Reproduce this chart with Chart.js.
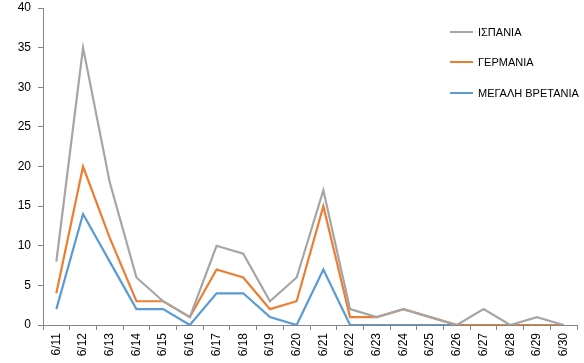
<!DOCTYPE html>
<html>
<head>
<meta charset="utf-8">
<script src="https://cdn.jsdelivr.net/npm/chart.js@4"></script>
<style>
html,body{margin:0;padding:0;background:#fff;}
#wrap{width:584px;height:363px;position:relative;}
</style>
</head>
<body>
<div id="wrap"><canvas id="c" width="584" height="363"></canvas></div>
<script>
const categories = ['6/11','6/12','6/13','6/14','6/15','6/16','6/17','6/18','6/19','6/20','6/21','6/22','6/23','6/24','6/25','6/26','6/27','6/28','6/29','6/30'];
const spain   = [8,35,18,6,3,1,10,9,3,6,17,2,1,2,1,0,2,0,1,0];
const germany = [4,20,11,3,3,1,7,6,2,3,15,1,1,2,1,0,0,0,0,0];
const uk      = [2,14,8,2,2,0,4,4,1,0,7,0,0,0,0,0,null,null,null,null];
const seriesNames = ['ΙΣΠΑΝΙΑ','ΓΕΡΜΑΝΙΑ','ΜΕΓΑΛΗ ΒΡΕΤΑΝΙΑ'];
const yTicks = [0,5,10,15,20,25,30,35,40];

const axisColor = '#868686';
const font = {family:'"Liberation Sans", Arial, sans-serif', size:12};

const legendPlugin = {
  id:'customLegend',
  afterDraw(chart){
    const ctx = chart.ctx;
    const ys = [32,62,93];
    ctx.save();
    chart.data.datasets.forEach((ds,i)=>{
      const y = ys[i];
      ctx.strokeStyle = ds.borderColor;
      ctx.lineWidth = 2;
      ctx.beginPath();
      ctx.moveTo(450,y);
      ctx.lineTo(473,y);
      ctx.stroke();
      ctx.fillStyle = '#000';
      ctx.font = '11px "Liberation Sans", Arial, sans-serif';
      ctx.textBaseline = 'middle';
      ctx.textAlign = 'left';
      ctx.fillText(ds.label, 478, y+1);
    });
    ctx.restore();
  }
};

new Chart(document.getElementById('c'), {
  type:'line',
  data:{
    labels:categories,
    datasets:[
      {label:seriesNames[0], data:spain, borderColor:'#A5A5A5', backgroundColor:'#A5A5A5'},
      {label:seriesNames[1], data:germany, borderColor:'#ED7D31', backgroundColor:'#ED7D31'},
      {label:seriesNames[2], data:uk, borderColor:'#5B9BD5', backgroundColor:'#5B9BD5'}
    ]
  },
  options:{
    responsive:false,
    animation:false,
    devicePixelRatio:1,
    layout:{padding:{top:8,right:7,left:0,bottom:0}},
    elements:{
      line:{borderWidth:2.2,tension:0,borderJoinStyle:'miter'},
      point:{radius:0,hoverRadius:0}
    },
    plugins:{legend:{display:false},tooltip:{enabled:false}},
    scales:{
      x:{
        offset:true,
        grid:{offset:true,drawOnChartArea:false,drawTicks:true,tickLength:5,color:axisColor,lineWidth:1},
        border:{display:true,color:axisColor,width:1},
        ticks:{color:'#000',font:font,minRotation:90,maxRotation:90,autoSkip:false,padding:3},
        afterFit(s){s.height = 38; s.paddingLeft = 0; s.paddingRight = 0;}
      },
      y:{
        min:0,max:40,
        afterBuildTicks(s){s.ticks = yTicks.map(v=>({value:v}));},
        grid:{drawOnChartArea:false,drawTicks:true,tickLength:5,color:axisColor,lineWidth:1},
        border:{display:true,color:axisColor,width:1},
        ticks:{color:'#000',font:font,padding:7},
        afterFit(s){s.width = 43; s.paddingTop = 0; s.paddingBottom = 0;}
      }
    }
  },
  plugins:[legendPlugin]
});
</script>
</body>
</html>
